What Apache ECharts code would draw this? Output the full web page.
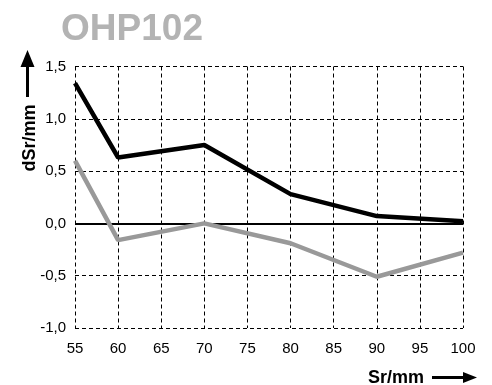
<!DOCTYPE html>
<html>
<head>
<meta charset="utf-8">
<script src="https://cdn.jsdelivr.net/npm/echarts@6/dist/echarts.min.js"></script>
<style>html,body{margin:0;padding:0;background:#fff}#c{width:492px;height:385px}</style>
</head>
<body>
<div id="c"></div>
<script>
const xValues = [55, 60, 70, 80, 90, 100];
const blackSeries = [1.34, 0.63, 0.75, 0.28, 0.07, 0.02];
const graySeries = [0.60, -0.16, 0.0, -0.19, -0.51, -0.28];
const titleText = 'OHP102';
const yName = 'dSr/mm';
const xName = 'Sr/mm';

const chart = echarts.init(document.getElementById('c'), null, {renderer: 'canvas'});
const font = '"Liberation Sans", Arial, sans-serif';
const dash = {color: '#000', width: 1, type: [4, 3]};
chart.setOption({
  animation: false,
  backgroundColor: '#fff',
  title: {
    text: titleText, left: 127, top: 6, textAlign: 'center',
    textStyle: {color: '#b3b3b3', fontSize: 37, fontWeight: 'bold', fontFamily: font}
  },
  grid: {left: 75, right: 29, top: 66.5, bottom: 57, containLabel: false},
  xAxis: {
    type: 'value', min: 55, max: 100, interval: 5,
    axisLine: {show: false}, axisTick: {show: false},
    axisLabel: {color: '#000', fontSize: 15, fontFamily: font, margin: 13},
    splitLine: {show: true, showMinLine: true, showMaxLine: true, lineStyle: dash}
  },
  yAxis: {
    type: 'value', min: -1, max: 1.5, interval: 0.5,
    axisLine: {show: false}, axisTick: {show: false},
    axisLabel: {color: '#000', fontSize: 15, fontFamily: font, margin: 9,
      formatter: v => v.toFixed(1).replace('.', ',')},
    splitLine: {show: true, showMinLine: true, showMaxLine: true, lineStyle: dash}
  },
  series: [
    {
      type: 'line', data: xValues.map((x, i) => [x, graySeries[i]]),
      symbol: 'none', lineStyle: {color: '#999999', width: 4.5}, z: 3,
      markLine: {
        silent: true, symbol: 'none', label: {show: false},
        lineStyle: {color: '#000', width: 2, type: 'solid'},
        data: [{yAxis: 0}], z: 2
      }
    },
    {
      type: 'line', data: xValues.map((x, i) => [x, blackSeries[i]]),
      symbol: 'none', lineStyle: {color: '#000', width: 4.5}, z: 4
    }
  ],
  graphic: [
    {type: 'text', x: 30, y: 138, rotation: Math.PI / 2,
      style: {text: yName, fill: '#000', font: 'bold 18px ' + font, textAlign: 'center', textVerticalAlign: 'middle'}},
    {type: 'line', shape: {x1: 27.5, y1: 97, x2: 27.5, y2: 62}, style: {stroke: '#000', lineWidth: 3}},
    {type: 'polygon', shape: {points: [[27.5, 50], [20.5, 67], [34.5, 67]]}, style: {fill: '#000'}},
    {type: 'text', x: 396, y: 378,
      style: {text: xName, fill: '#000', font: 'bold 18px ' + font, textAlign: 'center', textVerticalAlign: 'middle'}},
    {type: 'line', shape: {x1: 432, y1: 377.5, x2: 465, y2: 377.5}, style: {stroke: '#000', lineWidth: 3}},
    {type: 'polygon', shape: {points: [[477, 377.5], [463, 372], [463, 383]]}, style: {fill: '#000'}}
  ]
});
</script>
</body>
</html>
